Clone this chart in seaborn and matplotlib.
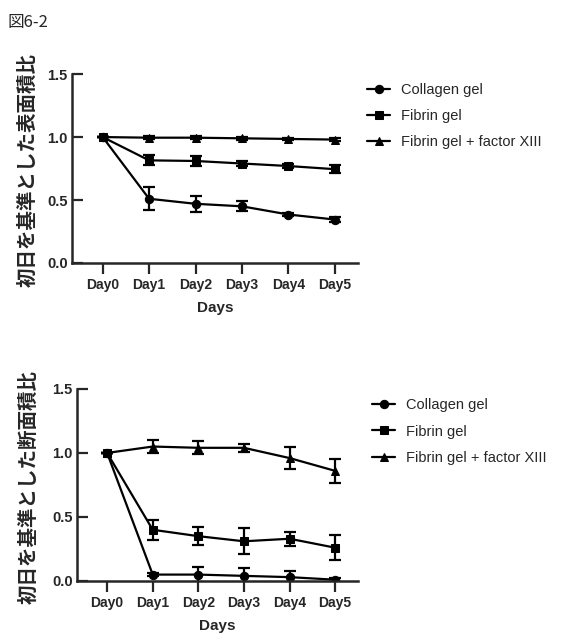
import matplotlib
matplotlib.use("Agg")
import matplotlib.pyplot as plt
import pandas as pd
import seaborn as sns

# Data
days = ["Day0", "Day1", "Day2", "Day3", "Day4", "Day5"]
series_names = ["Collagen gel", "Fibrin gel", "Fibrin gel + factor XIII"]

# surface area ratio (top panel)
surf_collagen = [1.0, 0.51, 0.47, 0.45, 0.385, 0.345]
surf_collagen_err = [0.0, 0.09, 0.065, 0.04, 0.01, 0.02]
surf_fibrin = [1.0, 0.815, 0.81, 0.79, 0.77, 0.745]
surf_fibrin_err = [0.0, 0.04, 0.04, 0.02, 0.015, 0.03]
surf_f13 = [1.0, 0.995, 0.995, 0.99, 0.985, 0.98]
surf_f13_err = [0.0, 0.01, 0.01, 0.01, 0.01, 0.01]

# cross-section area ratio (bottom panel)
sect_collagen = [1.0, 0.05, 0.05, 0.04, 0.03, 0.01]
sect_collagen_err = [0.0, 0.01, 0.06, 0.06, 0.05, 0.015]
sect_fibrin = [1.0, 0.40, 0.35, 0.31, 0.33, 0.26]
sect_fibrin_err = [0.0, 0.08, 0.07, 0.10, 0.055, 0.10]
sect_f13 = [1.0, 1.05, 1.04, 1.04, 0.96, 0.86]
sect_f13_err = [0.0, 0.05, 0.05, 0.03, 0.085, 0.095]

sns.set_style("ticks")
plt.rcParams["font.family"] = ["Liberation Sans", "Noto Sans CJK JP", "DejaVu Sans"]

markers = {"Collagen gel": "o", "Fibrin gel": "s", "Fibrin gel + factor XIII": "^"}


def make_df(c, ce, f, fe, t, te):
    rows = []
    for name, vals, errs in zip(series_names, [c, f, t], [ce, fe, te]):
        for i, d in enumerate(days):
            rows.append({"x": i, "day": d, "series": name, "value": vals[i], "err": errs[i]})
    return pd.DataFrame(rows)


def draw(ax, df, ylabel, label_x, legend_anchor, spacing):
    sns.lineplot(data=df, x="x", y="value", style="series", markers=markers,
                 dashes=False, color="black", linewidth=1.6, markersize=6,
                 markeredgecolor="black", ax=ax, legend=True)
    for name in series_names:
        sub = df[df["series"] == name]
        ax.errorbar(sub["x"], sub["value"], yerr=sub["err"], fmt="none",
                    ecolor="black", elinewidth=1.6, capsize=4, capthick=1.6)
    ax.set_xlim(-0.66, 5.5)
    ax.set_ylim(0, 1.5)
    ax.set_yticks([0, 0.5, 1.0, 1.5])
    ax.set_yticklabels(["0.0", "0.5", "1.0", "1.5"])
    ax.set_xticks(range(len(days)))
    ax.set_xticklabels(days)
    for lab in ax.get_xticklabels():
        lab.set_fontweight("bold")
        lab.set_fontsize(10)
    for lab in ax.get_yticklabels():
        lab.set_fontweight("bold")
        lab.set_fontsize(10.5)
    ax.tick_params(axis="x", width=1.6, length=8, pad=3)
    ax.tick_params(axis="y", width=1.6, length=8, pad=3, direction="in")
    for s in ["left", "bottom"]:
        ax.spines[s].set_linewidth(1.8)
    sns.despine(ax=ax)
    ax.set_xlabel("Days", fontsize=11, fontweight="bold")
    ax.xaxis.set_label_coords(0.5, -0.2)
    ax.set_ylabel(ylabel, fontsize=14, fontweight="bold",
                  family=["Noto Sans CJK JP", "DejaVu Sans"])
    ax.yaxis.set_label_coords(label_x, 0.49)
    handles, labels = ax.get_legend_handles_labels()
    ax.legend(handles, labels, loc="upper left", bbox_to_anchor=legend_anchor,
              bbox_transform=fig.transFigure, frameon=False, fontsize=10.5,
              borderpad=0, borderaxespad=0,
              handlelength=1.6, handletextpad=0.7, labelspacing=spacing)


fig = plt.figure(figsize=(5.63, 6.36), dpi=100)
ax1 = fig.add_axes([0.1279, 0.5865, 0.508, 0.297])
ax2 = fig.add_axes([0.1368, 0.0865, 0.499, 0.302])

df1 = make_df(surf_collagen, surf_collagen_err, surf_fibrin, surf_fibrin_err, surf_f13, surf_f13_err)
df2 = make_df(sect_collagen, sect_collagen_err, sect_fibrin, sect_fibrin_err, sect_f13, sect_f13_err)

draw(ax1, df1, "初日を基準とした表面積比", -0.12, (367 / 563, 0.869), 0.8)
draw(ax2, df2, "初日を基準とした断面積比", -0.135, (372 / 563, 0.374), 0.85)

fig.text(0.014, 0.958, "図6-2", fontsize=12, family=["Noto Sans CJK JP", "DejaVu Sans"])

fig.savefig("out.png", dpi=100)
